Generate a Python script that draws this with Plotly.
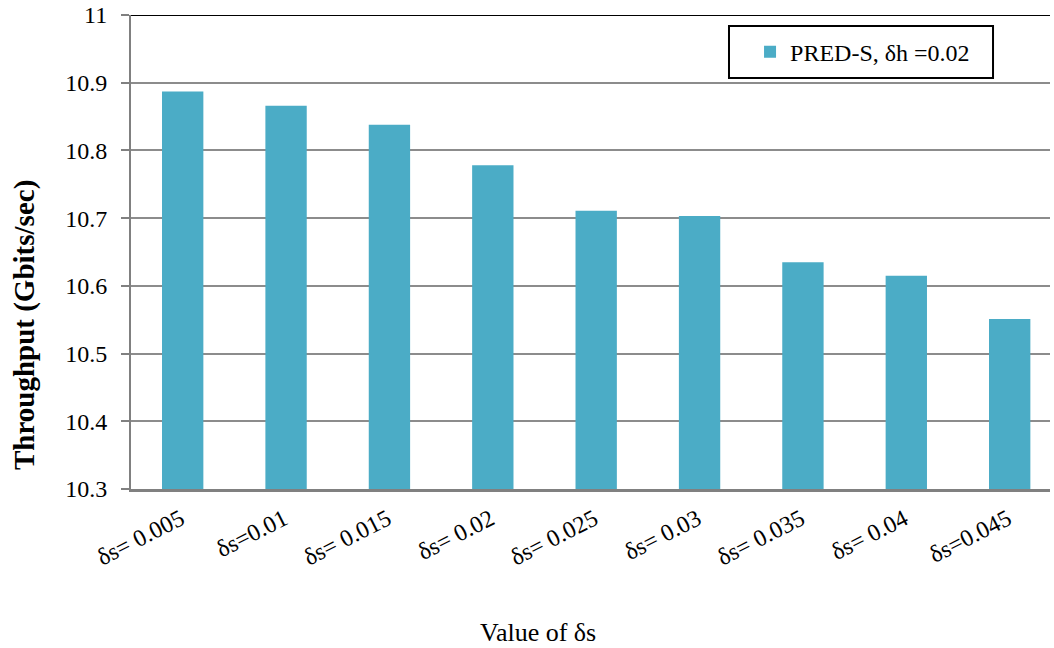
import plotly.graph_objects as go

categories = ["δs= 0.005", "δs=0.01", "δs= 0.015", "δs= 0.02", "δs= 0.025",
              "δs= 0.03", "δs= 0.035", "δs= 0.04", "δs=0.045"]
throughput = [10.887, 10.866, 10.838, 10.778, 10.711, 10.703, 10.635, 10.615, 10.551]
series_name = "PRED-S, δh =0.02"
y_ticks = [10.3, 10.4, 10.5, 10.6, 10.7, 10.8, 10.9, 11]
y_tick_text = ["10.3", "10.4", "10.5", "10.6", "10.7", "10.8", "10.9", "11"]
x_title = "Value of δs"
y_title = "Throughput (Gbits/sec)"

FONT = "Liberation Serif"
fig = go.Figure()
fig.add_trace(go.Bar(
    x=list(range(len(categories))), y=throughput, name=series_name,
    marker=dict(color="#4BACC6", line=dict(width=0)),
    width=0.4, base=0,
    showlegend=True,
))
fig.update_layout(
    width=1054, height=648,
    margin=dict(l=131, r=4, t=15, b=159),
    plot_bgcolor="white", paper_bgcolor="white",
    font=dict(family=FONT, size=24, color="black"),
    showlegend=True,
    legend=dict(x=0.6736, y=0.969, xanchor="left", yanchor="top",
                borderwidth=0, bgcolor="rgba(0,0,0,0)",
                font=dict(family=FONT, size=24),
                itemwidth=30, tracegroupgap=0),
    xaxis=dict(
        range=[-0.5, 8.39], automargin=False,
        tickmode="array", tickvals=list(range(len(categories))), ticktext=categories,
        tickangle=-27, tickfont=dict(family=FONT, size=24),
        ticklabelstandoff=4, ticklabelshift=-2,
        showline=True, linecolor="#808080", linewidth=2.5,
        showgrid=False, ticks="", zeroline=False,
    ),
    yaxis=dict(
        range=[10.3, 11], automargin=False,
        tickmode="array", tickvals=y_ticks, ticktext=y_tick_text,
        tickfont=dict(family=FONT, size=24),
        showline=True, linecolor="#808080", linewidth=2,
        showgrid=True, gridcolor="#8c8c8c", gridwidth=2,
        ticks="outside", ticklen=8, tickcolor="#808080", tickwidth=2,
        ticklabelstandoff=9,
        zeroline=False,
    ),
)
fig.add_annotation(text=x_title, xref="paper", yref="paper",
                   x=0.4434, y=-0.3017, xanchor="center", yanchor="middle",
                   showarrow=False, font=dict(family=FONT, size=26, color="black"))
fig.add_annotation(text="<b>" + y_title + "</b>", xref="paper", yref="paper",
                   x=-0.1153, y=0.346, xanchor="center", yanchor="middle",
                   textangle=-90, showarrow=False,
                   font=dict(family=FONT, size=29, color="black"))
fig.add_shape(type="line", xref="paper", yref="y", x0=0, x1=1, y0=11, y1=11,
              line=dict(color="black", width=2))
fig.add_shape(type="rect", xref="paper", yref="paper",
              x0=0.6507, x1=0.938, y0=0.8671, y1=0.9768,
              line=dict(color="black", width=2), fillcolor="white", layer="above")
fig.write_html("out.html", post_script="document.body.style.margin='0';",
               config={"displayModeBar": False})
